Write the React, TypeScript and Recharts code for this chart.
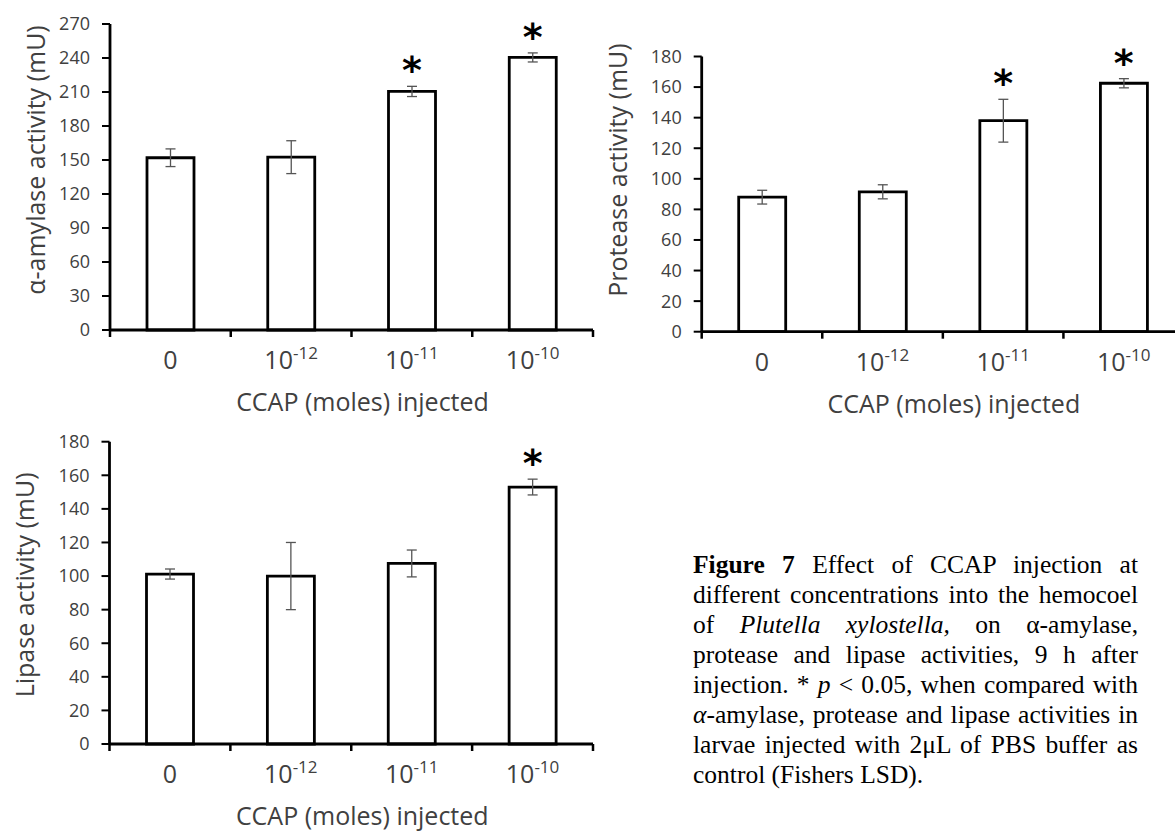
import { ComposedChart, Bar, XAxis, YAxis, ErrorBar, ReferenceDot, Label } from 'recharts';

const categories = ['0', '10^-12', '10^-11', '10^-10'];

const amylaseMean = [152, 152.5, 210.5, 240.5];
const amylaseErr = [7.8, 14.5, 4.5, 4];
const amylaseStar = [false, false, true, true];
const amylaseTicks = [0, 30, 60, 90, 120, 150, 180, 210, 240, 270];

const proteaseMean = [88, 91.5, 138, 162.5];
const proteaseErr = [4.5, 4.6, 14, 3];
const proteaseStar = [false, false, true, true];
const proteaseTicks = [0, 20, 40, 60, 80, 100, 120, 140, 160, 180];

const lipaseMean = [101.2, 100, 107.5, 153];
const lipaseErr = [3, 20, 8, 4.7];
const lipaseStar = [false, false, false, true];
const lipaseTicks = [0, 20, 40, 60, 80, 100, 120, 140, 160, 180];

const FONT = '"Open Sans", sans-serif';
const TXT = '#404040';

const buildRows = (mean: number[], err: number[]) =>
  categories.map((cat, i) => ({ cat, mean: mean[i], err: err[i] }));

function CatTick(props: any) {
  const { x, y, payload, index, visibleTicksCount, width } = props;
  const band = width && visibleTicksCount ? width / visibleTicksCount : 120.7;
  const [base, exp] = String(payload.value).split('^');
  const l = x - band / 2;
  const r = x + band / 2;
  return (
    <g>
      <line x1={l} x2={l} y1={y} y2={y + 7} stroke="#000" strokeWidth={2.5} />
      {index === visibleTicksCount - 1 && (
        <line x1={r} x2={r} y1={y} y2={y + 7} stroke="#000" strokeWidth={2.5} />
      )}
      <text x={x} y={y + 39} textAnchor="middle" fill={TXT} fontSize={25} fontFamily={FONT}>
        {base}
        {exp && (
          <tspan dy={-10} fontSize={17}>
            {exp}
          </tspan>
        )}
      </text>
    </g>
  );
}

const Star = (p: any) => (
  <text
    x={p.cx}
    y={p.cy - 3}
    textAnchor="middle"
    fontSize={38}
    fontWeight="bold"
    fontFamily="DejaVu Sans"
    fill="#000"
  >
    *
  </text>
);

type PanelProps = {
  left: number;
  top: number;
  width: number;
  height: number;
  margin: { top: number; right: number; bottom: number; left: number };
  yAxisWidth: number;
  xAxisHeight: number;
  mean: number[];
  err: number[];
  stars: boolean[];
  ticks: number[];
  yTitle: string;
  yTitleDx: number;
  yTitleDy: number;
};

function Panel(p: PanelProps) {
  const rows = buildRows(p.mean, p.err);
  const yMax = p.ticks[p.ticks.length - 1];
  return (
    <div style={{ position: 'absolute', left: p.left, top: p.top }}>
      <ComposedChart width={p.width} height={p.height} data={rows} margin={p.margin}>
        <XAxis
          dataKey="cat"
          height={p.xAxisHeight}
          interval={0}
          tickLine={false}
          tickSize={0}
          tickMargin={0}
          axisLine={{ stroke: '#000', strokeWidth: 2.8 }}
          tick={<CatTick />}
        >
          <Label
            content={(lp: any) => {
              const vb = lp.viewBox;
              return (
                <text
                  x={vb.x + vb.width / 2 + 11}
                  y={vb.y + 81}
                  textAnchor="middle"
                  fill={TXT}
                  fontSize={25}
                  fontFamily={FONT}
                >
                  CCAP (moles) injected
                </text>
              );
            }}
          />
        </XAxis>
        <YAxis
          width={p.yAxisWidth}
          domain={[0, yMax]}
          ticks={p.ticks}
          interval={0}
          tickSize={8}
          tickMargin={12}
          axisLine={{ stroke: '#000', strokeWidth: 2.8 }}
          tickLine={{ stroke: '#000', strokeWidth: 2 }}
          tick={{ fill: TXT, fontSize: 18, fontFamily: FONT }}
        >
          <Label
            content={(lp: any) => {
              const vb = lp.viewBox;
              const cx = vb.x + vb.width + p.yTitleDx;
              const cy = vb.y + vb.height / 2 + p.yTitleDy;
              return (
                <text
                  x={cx}
                  y={cy}
                  textAnchor="middle"
                  dominantBaseline="central"
                  transform={`rotate(-90, ${cx}, ${cy})`}
                  fill={TXT}
                  fontSize={25}
                  fontFamily={FONT}
                >
                  {p.yTitle}
                </text>
              );
            }}
          />
        </YAxis>
        <Bar
          dataKey="mean"
          fill="#fff"
          stroke="#000"
          strokeWidth={2.8}
          barSize={47}
          isAnimationActive={false}
        >
          <ErrorBar
            dataKey="err"
            width={5}
            stroke="#555"
            strokeWidth={1.3}
            direction="y"
            isAnimationActive={false}
          />
        </Bar>
        {rows.map((r, i) =>
          p.stars[i] ? (
            <ReferenceDot
              key={r.cat}
              x={r.cat}
              y={r.mean + r.err}
              r={0}
              ifOverflow="visible"
              shape={(sp: any) => <Star {...sp} />}
            />
          ) : null
        )}
      </ComposedChart>
    </div>
  );
}

const lineStyle: React.CSSProperties = { textAlign: 'justify', textAlignLast: 'justify' };

export default function App() {
  return (
    <div
      style={{
        position: 'absolute',
        left: 0,
        top: 0,
        width: 1175,
        height: 833,
        overflow: 'hidden',
        background: '#fff',
      }}
    >
      <Panel
        left={0}
        top={0}
        width={620}
        height={420}
        margin={{ top: 24, right: 27, bottom: 0, left: 0 }}
        yAxisWidth={110}
        xAxisHeight={90}
        mean={amylaseMean}
        err={amylaseErr}
        stars={amylaseStar}
        ticks={amylaseTicks}
        yTitle="α-amylase activity (mU)"
        yTitleDx={-75}
        yTitleDy={-17}
      />
      <Panel
        left={580}
        top={0}
        width={620}
        height={420}
        margin={{ top: 56.5, right: 16, bottom: 0, left: 0 }}
        yAxisWidth={121.7}
        xAxisHeight={88.3}
        mean={proteaseMean}
        err={proteaseErr}
        stars={proteaseStar}
        ticks={proteaseTicks}
        yTitle="Protease activity (mU)"
        yTitleDx={-85}
        yTitleDy={-24}
      />
      <Panel
        left={0}
        top={420}
        width={620}
        height={413}
        margin={{ top: 21.7, right: 27, bottom: 0, left: 0 }}
        yAxisWidth={109.5}
        xAxisHeight={89}
        mean={lipaseMean}
        err={lipaseErr}
        stars={lipaseStar}
        ticks={lipaseTicks}
        yTitle="Lipase activity (mU)"
        yTitleDx={-85.5}
        yTitleDy={-8}
      />
      <div
        style={{
          position: 'absolute',
          left: 693,
          top: 550,
          width: 445,
          fontFamily: '"Liberation Serif", "Times New Roman", serif',
          fontSize: 25.5,
          lineHeight: '30px',
          color: '#000',
        }}
      >
        <div style={lineStyle}>
          <b>Figure 7</b> Effect of CCAP injection at
        </div>
        <div style={lineStyle}>different concentrations into the hemocoel</div>
        <div style={lineStyle}>
          of <i>Plutella xylostella,</i> on α-amylase,
        </div>
        <div style={lineStyle}>protease and lipase activities, 9 h after</div>
        <div style={lineStyle}>
          injection. * <i>p</i> &lt; 0.05, when compared with
        </div>
        <div style={lineStyle}>
          <i>α</i>-amylase, protease and lipase activities in
        </div>
        <div style={lineStyle}>larvae injected with 2μL of PBS buffer as</div>
        <div>control (Fishers LSD).</div>
      </div>
    </div>
  );
}
